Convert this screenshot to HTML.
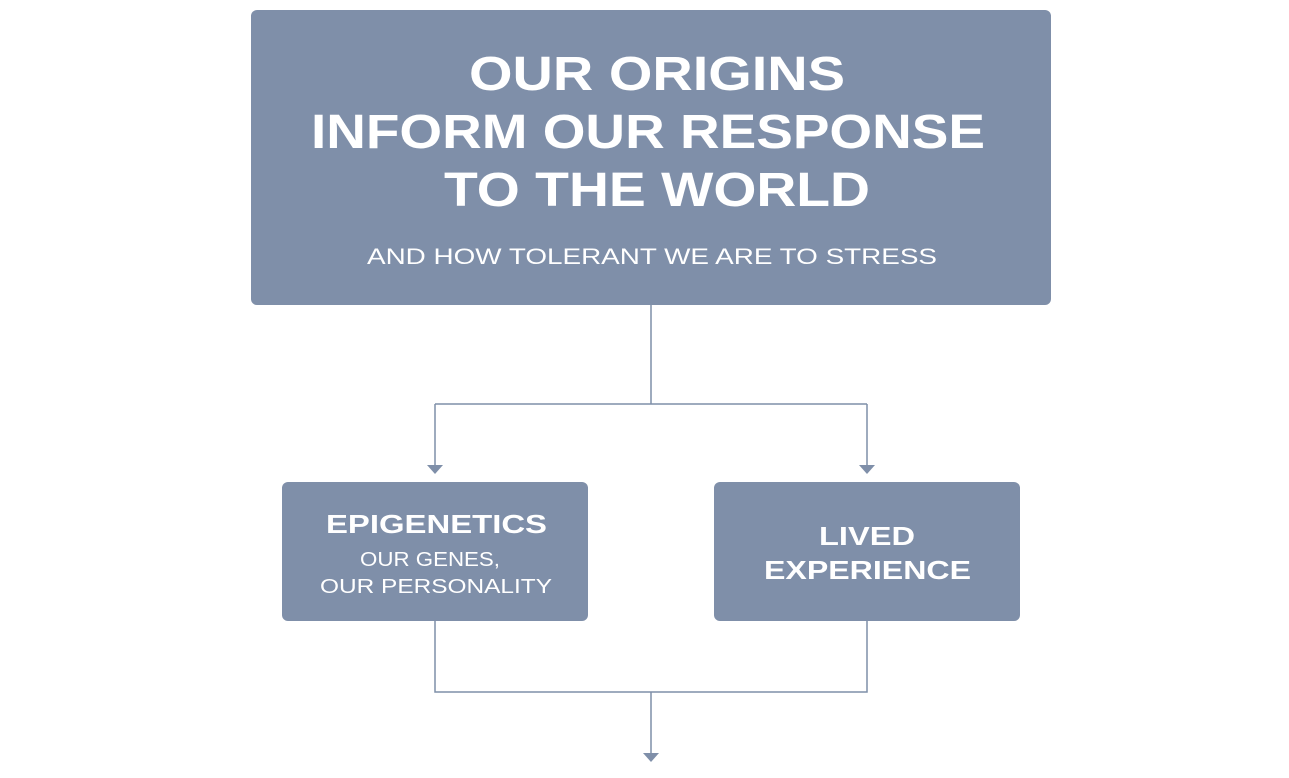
<!DOCTYPE html>
<html><head><meta charset="utf-8"><style>html,body{margin:0;padding:0;background:#fff}svg{display:block}</style></head>
<body>
<svg width="1289" height="778" viewBox="0 0 1289 778" xmlns="http://www.w3.org/2000/svg" font-family="'Liberation Sans', sans-serif" fill="#fff">
<rect x="251" y="10" width="800" height="295" rx="6" fill="#7f8fa9"/>
<rect x="282" y="482" width="306" height="139" rx="6" fill="#7f8fa9"/>
<rect x="714" y="482" width="306" height="139" rx="6" fill="#7f8fa9"/>
<g stroke="#7f8fa9" stroke-width="1.5" fill="none">
<path d="M651 305V404M435 404H867M435 404V466M867 404V466"/>
<path d="M435 621V692H867V621M651 692V753"/>
</g>
<g fill="#7f8fa9">
<path d="M427 465h16l-8 9z"/><path d="M859 465h16l-8 9z"/><path d="M643 753h16l-8 9z"/>
</g>
<g font-weight="bold" font-size="48" text-anchor="start">
<text x="469" y="90" textLength="376" lengthAdjust="spacingAndGlyphs">OUR ORIGINS</text>
<text x="311" y="148" textLength="674" lengthAdjust="spacingAndGlyphs">INFORM OUR RESPONSE</text>
<text x="444" y="206" textLength="426" lengthAdjust="spacingAndGlyphs">TO THE WORLD</text>
</g>
<text x="367" y="264" font-size="22" textLength="570" lengthAdjust="spacingAndGlyphs">AND HOW TOLERANT WE ARE TO STRESS</text>
<text x="326" y="533" font-size="26" font-weight="bold" textLength="221" lengthAdjust="spacingAndGlyphs">EPIGENETICS</text>
<text x="360" y="566" font-size="20" textLength="140" lengthAdjust="spacingAndGlyphs">OUR GENES,</text>
<text x="320" y="593" font-size="20" textLength="232" lengthAdjust="spacingAndGlyphs">OUR PERSONALITY</text>
<text x="819" y="545" font-size="26" font-weight="bold" textLength="96" lengthAdjust="spacingAndGlyphs">LIVED</text>
<text x="764" y="579" font-size="26" font-weight="bold" textLength="207" lengthAdjust="spacingAndGlyphs">EXPERIENCE</text>
</svg>
</body></html>
